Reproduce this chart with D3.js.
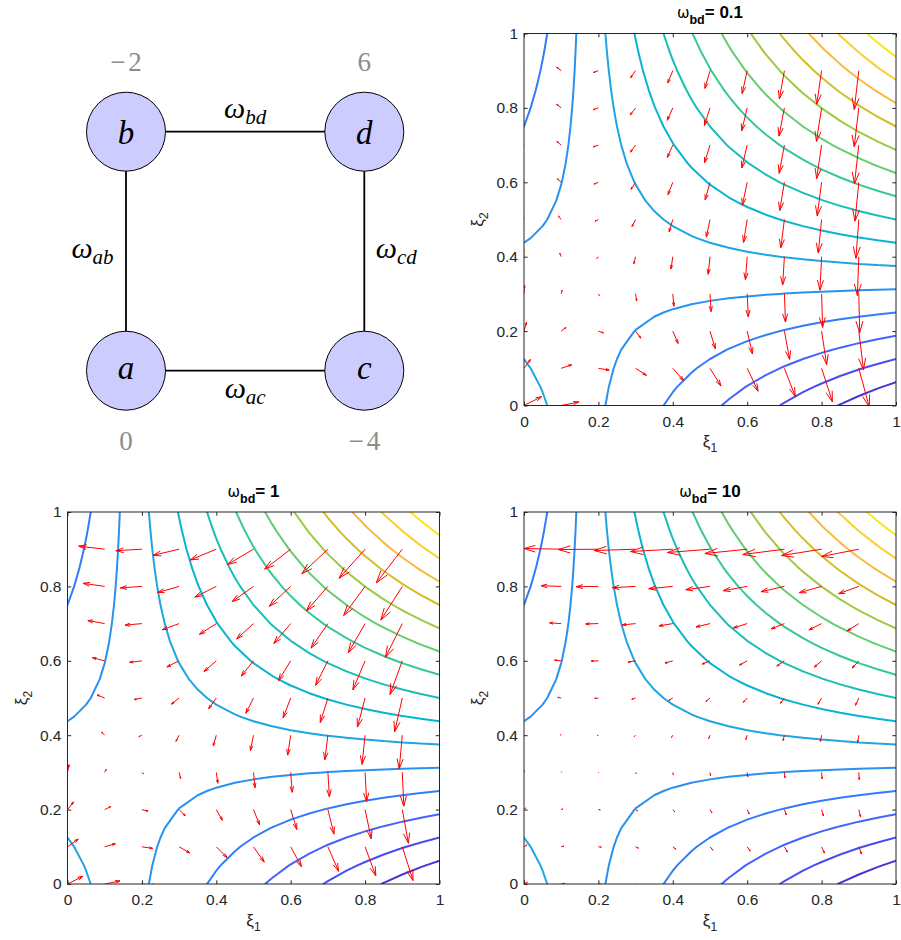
<!DOCTYPE html>
<html>
<head>
<meta charset="utf-8">
<script src="https://cdn.jsdelivr.net/npm/d3@7"></script>
<style>
  body { margin: 0; background: #fff; }
</style>
</head>
<body>
<div id="chart"></div>
<script>
// ---- data ----
const nodeNames = ["a", "b", "c", "d"];
const nodeValues = [0, -2, -4, 6];
// which corner of the (xi1, xi2) square each state sits on
const nodeCorners = [[0, 0], [0, 1], [1, 0], [1, 1]];
const edgeNames = ["ab", "ac", "bd", "cd"];
const edgeWeights = [1, 1, 1, 1];          // omega_bd gets replaced per panel
const omegaBdValues = [0.1, 1, 10];
const contourLevels = [-3.375, -2.75, -2.125, -1.5, -0.875, -0.25, 0.375, 1,
                       1.625, 2.25, 2.875, 3.5, 4.125, 4.75, 5.375];
const contourGrid = d3.range(0, 21).map(i => i / 20);    // 0:0.05:1
const quiverGrid = d3.range(0, 10).map(i => i / 10);     // 0:0.1:0.9
const axisTicks = [0, 0.2, 0.4, 0.6, 0.8, 1];
const axisTickLabels = ["0", "0.2", "0.4", "0.6", "0.8", "1"];

// ---- styles ----
const levelColors = ["#4537d5", "#484df0", "#4563fd", "#327cfc", "#2b91ef", "#20a5e3",
  "#08b5d0", "#19bfb6", "#37c897", "#64cd6f", "#9dc943", "#d1bf27", "#f8ba3d",
  "#fccf30", "#f5e924"];
const panelOrigins = [[524, 33.5], [67.5, 512], [524, 512]];
const axSize = 372;
const sansFont = "'Liberation Sans', Arial, Helvetica, sans-serif";
const serifFont = "'Liberation Serif', 'Times New Roman', serif";
const axisColor = "#262626";

const svg = d3.select("#chart").append("svg")
  .attr("width", 901).attr("height", 940)
  .style("font-family", sansFont);

// ---- model helpers ----
function stateProbs(x, y) {
  return [(1 - x) * (1 - y), (1 - x) * y, x * (1 - y), x * y];
}
function dot(u, v) { return d3.sum(u, (ui, i) => ui * v[i]); }
function energy(x, y) { return dot(stateProbs(x, y), nodeValues); }

function solveGrounded(L, b) {
  // node a is the reference potential, eliminate on b, c, d
  const A = [1, 2, 3].map(i => [L[i][1], L[i][2], L[i][3], b[i]]);
  for (let c = 0; c < 3; c++) {
    let piv = c;
    for (let r = c + 1; r < 3; r++) if (Math.abs(A[r][c]) > Math.abs(A[piv][c])) piv = r;
    [A[c], A[piv]] = [A[piv], A[c]];
    for (let r = c + 1; r < 3; r++) {
      const f = A[r][c] / A[c][c];
      for (let k = c; k < 4; k++) A[r][k] -= f * A[c][k];
    }
  }
  const s = [0, 0, 0];
  for (let r = 2; r >= 0; r--) {
    let acc = A[r][3];
    for (let k = r + 1; k < 3; k++) acc -= A[r][k] * s[k];
    s[r] = acc / A[r][r];
  }
  return [0, ...s];
}

// Wasserstein natural gradient of the expected value on the independence model
function flowAt(x, y, weights) {
  const p = stateProbs(x, y);
  const L = nodeNames.map(() => [0, 0, 0, 0]);
  edgeNames.forEach((e, k) => {
    const i = nodeNames.indexOf(e[0]), j = nodeNames.indexOf(e[1]);
    const w = weights[k] * (p[i] + p[j]) / 2 + 1e-12;
    L[i][i] += w; L[j][j] += w; L[i][j] -= w; L[j][i] -= w;
  });
  const bx = [-(1 - y), -y, 1 - y, y];
  const by = [-(1 - x), 1 - x, -x, x];
  const phi = solveGrounded(L, bx), psi = solveGrounded(L, by);
  const G = [[dot(bx, phi), dot(bx, psi)], [dot(by, phi), dot(by, psi)]];
  const g = [dot(bx, nodeValues), dot(by, nodeValues)];
  const det = G[0][0] * G[1][1] - G[0][1] * G[1][0];
  return [-(G[1][1] * g[0] - G[0][1] * g[1]) / det,
          -(G[0][0] * g[1] - G[1][0] * g[0]) / det];
}

function contourSegments(values, xs, ys, level) {
  const segs = [];
  for (let i = 0; i < xs.length - 1; i++) {
    for (let j = 0; j < ys.length - 1; j++) {
      const v00 = values[i][j], v10 = values[i + 1][j], v01 = values[i][j + 1], v11 = values[i + 1][j + 1];
      const p00 = [xs[i], ys[j]], p10 = [xs[i + 1], ys[j]], p11 = [xs[i + 1], ys[j + 1]], p01 = [xs[i], ys[j + 1]];
      const pts = [];
      const cross = (va, vb, pa, pb) => {
        if ((va > level) !== (vb > level)) {
          const t = (level - va) / (vb - va);
          pts.push([pa[0] + t * (pb[0] - pa[0]), pa[1] + t * (pb[1] - pa[1])]);
        }
      };
      cross(v00, v10, p00, p10);
      cross(v10, v11, p10, p11);
      cross(v11, v01, p11, p01);
      cross(v01, v00, p01, p00);
      if (pts.length === 2) segs.push(pts);
      else if (pts.length === 4) {
        const center = (v00 + v10 + v01 + v11) / 4;
        if ((center > level) === (v00 > level)) { segs.push([pts[0], pts[1]], [pts[2], pts[3]]); }
        else { segs.push([pts[0], pts[3]], [pts[1], pts[2]]); }
      }
    }
  }
  return segs;
}

// ---- graph diagram (top left) ----
const measureCtx = document.createElement("canvas").getContext("2d");
function glyphBox(txt, font) {
  measureCtx.font = font;
  const m = measureCtx.measureText(txt);
  return [m.actualBoundingBoxAscent, m.actualBoundingBoxDescent];
}

const dgx = d3.scaleLinear([0, 1], [126, 364.3]);
const dgy = d3.scaleLinear([0, 1], [370.7, 131.7]);
const nodeR = 39.5;
const diag = svg.append("g");

edgeNames.forEach(e => {
  const a = nodeCorners[nodeNames.indexOf(e[0])], b = nodeCorners[nodeNames.indexOf(e[1])];
  diag.append("line")
    .attr("x1", dgx(a[0])).attr("y1", dgy(a[1]))
    .attr("x2", dgx(b[0])).attr("y2", dgy(b[1]))
    .attr("stroke", "#000").attr("stroke-width", 1.8);

  const mx = (dgx(a[0]) + dgx(b[0])) / 2, my = (dgy(a[1]) + dgy(b[1])) / 2;
  let lx = mx, ly = my;
  if (a[1] === b[1]) ly = a[1] === 1 ? my - 13.5 : my + 27.5;
  else { lx = a[0] === 0 ? mx - 33.5 : mx + 32; ly = my + 7; }
  const t = diag.append("text").attr("x", lx).attr("y", ly)
    .attr("text-anchor", "middle").attr("font-family", serifFont)
    .attr("font-style", "italic").attr("fill", "#000");
  t.append("tspan").attr("font-size", 30).text("ω");
  t.append("tspan").attr("font-size", 21).attr("dy", 6).text(e);
});

nodeNames.forEach((n, i) => {
  const cx = dgx(nodeCorners[i][0]), cy = dgy(nodeCorners[i][1]);
  diag.append("circle").attr("cx", cx).attr("cy", cy).attr("r", nodeR)
    .attr("fill", "#ccccff").attr("stroke", "#000").attr("stroke-width", 1);
  const [asc, desc] = glyphBox(n, "italic 33px " + serifFont);
  diag.append("text").attr("x", cx).attr("y", cy + (asc - desc) / 2)
    .attr("text-anchor", "middle").attr("font-family", serifFont)
    .attr("font-style", "italic").attr("font-size", 33).attr("fill", "#000").text(n);

  const vy = nodeCorners[i][1] === 1 ? cy - 61 : cy + 79;
  const vt = diag.append("text").attr("x", cx).attr("y", vy)
    .attr("text-anchor", "middle").attr("font-family", serifFont)
    .attr("font-size", 27).attr("fill", "#8c8c8c");
  const v = nodeValues[i];
  if (v < 0) {
    vt.append("tspan").text("\u2212");
    vt.append("tspan").attr("dx", 3).text(String(-v));
  } else {
    vt.append("tspan").text(String(v));
  }
});

// ---- contour + quiver panels ----
const fieldGrid = contourGrid.map(x => contourGrid.map(y => energy(x, y)));

omegaBdValues.forEach((omega, pi) => {
  const [ox, oy] = panelOrigins[pi];
  const g = svg.append("g").attr("transform", `translate(${ox},${oy})`);
  const sx = d3.scaleLinear([0, 1], [0, axSize]);
  const sy = d3.scaleLinear([0, 1], [axSize, 0]);

  const clipId = "clip" + pi;
  g.append("clipPath").attr("id", clipId)
    .append("rect").attr("width", axSize).attr("height", axSize);
  const plot = g.append("g").attr("clip-path", `url(#${clipId})`);

  // contour lines
  contourLevels.forEach((lev, k) => {
    const segs = contourSegments(fieldGrid, contourGrid, contourGrid, lev);
    const path = d3.path();
    segs.forEach(s => {
      path.moveTo(sx(s[0][0]), sy(s[0][1]));
      path.lineTo(sx(s[1][0]), sy(s[1][1]));
    });
    plot.append("path").attr("d", path.toString())
      .attr("fill", "none").attr("stroke", levelColors[k])
      .attr("stroke-width", 2).attr("stroke-linecap", "round").attr("stroke-linejoin", "round");
  });

  // quiver, autoscaled like matlab (0.9 of the grid spacing diagonal)
  const weights = edgeNames.map((e, k) => e === "bd" ? omega : edgeWeights[k]);
  const arrows = [];
  quiverGrid.forEach(x => quiverGrid.forEach(y => {
    const [u, v] = flowAt(x, y, weights);
    arrows.push({ x, y, u, v });
  }));
  const n = quiverGrid.length;
  const del = (d3.max(quiverGrid) - d3.min(quiverGrid)) / n;
  const maxLen = d3.max(arrows, d => Math.hypot(d.u, d.v));
  const scale = 0.9 * Math.sqrt(2 * del * del) / maxLen;
  const alpha = 0.3, beta = 0.3;
  const q = d3.path();
  arrows.forEach(d => {
    const u = d.u * scale, v = d.v * scale;
    const tipX = d.x + u, tipY = d.y + v;
    q.moveTo(sx(d.x), sy(d.y));
    q.lineTo(sx(tipX), sy(tipY));
    q.moveTo(sx(tipX - alpha * (u + beta * v)), sy(tipY - alpha * (v - beta * u)));
    q.lineTo(sx(tipX), sy(tipY));
    q.lineTo(sx(tipX - alpha * (u - beta * v)), sy(tipY - alpha * (v + beta * u)));
  });
  plot.append("path").attr("d", q.toString())
    .attr("fill", "none").attr("stroke", "#ff0000").attr("stroke-width", 1)
    .attr("stroke-linejoin", "miter");

  // axes: labels on bottom/left, mirrored ticks on top/right
  const fmt = d => axisTickLabels[axisTicks.indexOf(d)];
  const styleAxis = sel => {
    sel.select(".domain").remove();
    sel.selectAll(".tick line").attr("stroke", axisColor);
    sel.selectAll(".tick text").attr("fill", axisColor)
      .attr("font-size", 15.5).attr("font-family", sansFont);
  };
  g.append("g").attr("transform", `translate(0,${axSize})`)
    .call(d3.axisBottom(sx).tickValues(axisTicks).tickFormat(fmt).tickSize(-3.7).tickPadding(10))
    .call(styleAxis);
  g.append("g")
    .call(d3.axisLeft(sy).tickValues(axisTicks).tickFormat(fmt).tickSize(-3.7).tickPadding(6))
    .call(styleAxis);
  g.append("g")
    .call(d3.axisTop(sx).tickValues(axisTicks).tickFormat("").tickSize(-3.7))
    .call(styleAxis);
  g.append("g").attr("transform", `translate(${axSize},0)`)
    .call(d3.axisRight(sy).tickValues(axisTicks).tickFormat("").tickSize(-3.7))
    .call(styleAxis);
  g.append("rect").attr("width", axSize).attr("height", axSize)
    .attr("fill", "none").attr("stroke", axisColor).attr("stroke-width", 1);

  // title
  const title = g.append("text").attr("x", axSize / 2).attr("y", -15.5)
    .attr("text-anchor", "middle").attr("fill", "#000");
  title.append("tspan").attr("font-size", 15).attr("font-family", "'DejaVu Sans', sans-serif").text("ω");
  title.append("tspan").attr("font-size", 12.5).attr("font-weight", "bold").attr("dy", 6).text("bd");
  title.append("tspan").attr("font-size", 17).attr("font-weight", "bold").attr("dy", -6).text("= " + omega);

  // axis labels
  const xl = g.append("text").attr("x", axSize / 2).attr("y", axSize + 41.5)
    .attr("text-anchor", "middle").attr("fill", axisColor);
  xl.append("tspan").attr("font-size", 17).text("ξ");
  xl.append("tspan").attr("font-size", 12).attr("dy", 5).text("1");
  const yl = g.append("text")
    .attr("transform", `translate(-41,${axSize / 2}) rotate(-90)`)
    .attr("text-anchor", "middle").attr("fill", axisColor);
  yl.append("tspan").attr("font-size", 17).text("ξ");
  yl.append("tspan").attr("font-size", 12).attr("dy", 5).text("2");
});
</script>
</body>
</html>
